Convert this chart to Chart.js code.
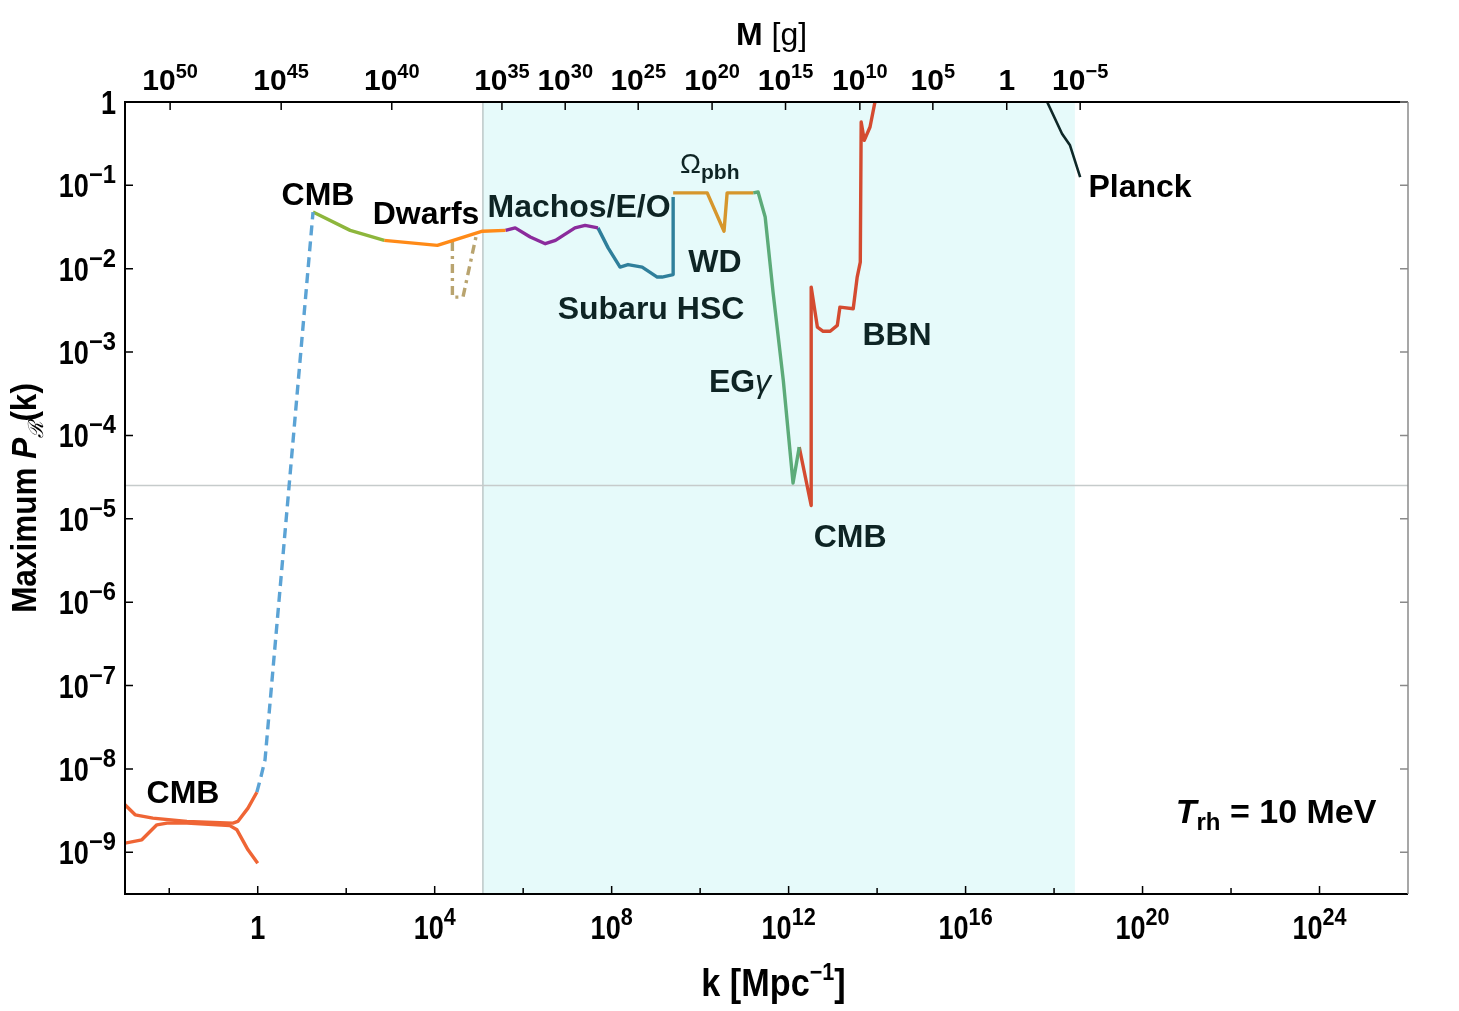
<!DOCTYPE html>
<html>
<head>
<meta charset="utf-8">
<title>Maximum P_R(k) vs k</title>
<script src="https://cdn.jsdelivr.net/npm/chart.js@4.4.1/dist/chart.umd.min.js"></script>
<style>
  html, body { margin: 0; padding: 0; background: #fff; }
  canvas { display: block; }
</style>
</head>
<body>
<canvas id="pbhChart" width="1459" height="1011"></canvas>
<script>
// All curve values are log10(k [Mpc^-1]) and log10(P_R)

// CMB (large scales), two branches
const cmbLowUpperK = [-3.0, -2.77, -2.37, -1.60, -0.56, -0.45, -0.22, -0.02];
const cmbLowUpperP = [-8.43, -8.55, -8.59, -8.63, -8.65, -8.63, -8.47, -8.28];
const cmbLowLowerK = [-3.0, -2.62, -2.28, -2.05, -1.60, -0.63, -0.47, -0.22, 0.0];
const cmbLowLowerP = [-8.89, -8.85, -8.67, -8.65, -8.65, -8.68, -8.73, -8.97, -9.13];

// dashed connection up to the CMB point
const linkK = [-0.02, 0.075, 0.165, 0.71, 1.25];
const linkP = [-8.28, -8.09, -7.89, -4.60, -1.32];

// CMB spectral distortions (green)
const cmbK = [1.25, 2.09, 2.86];
const cmbP = [-1.32, -1.54, -1.66];

// Dwarfs
const dwarfsK = [2.86, 4.06, 4.42, 5.08, 5.60];
const dwarfsP = [-1.66, -1.72, -1.66, -1.55, -1.54];

// Dwarfs, alternative (dash-dot)
const dwarfsAltK = [4.40, 4.40, 4.64, 4.94];
const dwarfsAltP = [-1.68, -2.34, -2.34, -1.60];

// Machos / EROS / OGLE
const machosK = [5.60, 5.82, 6.16, 6.50, 6.73, 7.17, 7.40, 7.69];
const machosP = [-1.54, -1.51, -1.62, -1.70, -1.66, -1.51, -1.48, -1.51];

// Subaru HSC
const subaruK = [7.69, 7.92, 8.19, 8.37, 8.69, 9.03, 9.14, 9.39, 9.39];
const subaruP = [-1.51, -1.75, -1.98, -1.95, -1.98, -2.10, -2.10, -2.07, -1.14];

// Omega_pbh and WD
const omegaK = [9.39, 10.16, 10.54, 10.61, 11.20];
const omegaP = [-1.09, -1.09, -1.55, -1.09, -1.09];

// Extragalactic gamma rays
const egK = [11.20, 11.31, 11.47, 11.65, 11.88, 12.10, 12.24];
const egP = [-1.09, -1.08, -1.38, -2.29, -3.34, -4.57, -4.14];

// CMB anisotropies + BBN
const bbnK = [12.24, 12.51, 12.51, 12.65, 12.78, 12.94, 13.10, 13.16, 13.46, 13.55, 13.62, 13.64, 13.71, 13.84, 13.97];
const bbnP = [-4.14, -4.84, -2.22, -2.70, -2.75, -2.75, -2.68, -2.46, -2.48, -2.10, -1.92, -0.24, -0.46, -0.30, 0.05];

// Planck relics
const planckK = [17.80, 18.18, 18.36, 18.59];
const planckP = [0.05, -0.38, -0.52, -0.90];

// shaded window and reference line
const shadeK = [5.09, 18.47];
const refP = -4.6;

// axes
const kMajorTicks = [0, 4, 8, 12, 16, 20, 24];
const kMinorTicks = [-2, 2, 6, 10, 14, 18, 22];
const pTicks = [0, -1, -2, -3, -4, -5, -6, -7, -8, -9];
const massExponents = [50, 45, 40, 35, 30, 25, 20, 15, 10, 5, 0, -5];
const massTickK = [-1.98, 0.53, 3.03, 5.52, 6.95, 8.60, 10.27, 11.93, 13.61, 15.26, 16.93, 18.59];

const pts = (lk, lp) => lk.map((e, i) => ({ x: Math.pow(10, e), y: Math.pow(10, lp[i]) }));

function curve(lk, lp, color, dash, width) {
  return {
    data: pts(lk, lp),
    borderColor: color,
    borderWidth: width || 3.4,
    borderDash: dash || [],
    pointRadius: 0,
    tension: 0,
    fill: false,
    borderJoinStyle: 'round'
  };
}

const supText = e => (e < 0 ? '\u2212' + Math.abs(e) : String(e));

// draw a run of text pieces: [text, font, dy, sx]
function drawParts(ctx, parts, x, y, align, sx) {
  sx = sx || 1;
  const scaleOf = p => (p[3] !== undefined ? p[3] : sx);
  let w = 0;
  parts.forEach(p => { ctx.font = p[1]; w += ctx.measureText(p[0]).width * scaleOf(p); });
  let cx = align === 'center' ? x - w / 2 : align === 'right' ? x - w : x;
  parts.forEach(p => {
    ctx.font = p[1];
    const s = scaleOf(p);
    const pw = ctx.measureText(p[0]).width * s;
    ctx.save();
    ctx.translate(cx, y + (p[2] || 0));
    ctx.scale(s, 1);
    ctx.fillText(p[0], 0, 0);
    ctx.restore();
    cx += pw;
  });
}

function powLabel(e, main, sup, dy, supSx) {
  if (e === 0) return [['1', main]];
  return [['10', main], [supText(e), sup, dy, supSx]];
}

const FONT = '"Liberation Sans", Arial, Helvetica, sans-serif';

const decorPlugin = {
  id: 'decor',
  beforeDatasetsDraw(chart) {
    const { ctx, chartArea: a, scales: { x, y } } = chart;
    const x0 = x.getPixelForValue(Math.pow(10, shadeK[0]));
    const x1 = x.getPixelForValue(Math.pow(10, shadeK[1]));
    ctx.save();
    ctx.fillStyle = '#E6FAFA';
    ctx.fillRect(x0, a.top, x1 - x0, a.bottom - a.top);
    ctx.lineWidth = 1.5;
    ctx.strokeStyle = '#BCC8C8';
    ctx.beginPath(); ctx.moveTo(x0, a.top); ctx.lineTo(x0, a.bottom); ctx.stroke();
    const yr = y.getPixelForValue(Math.pow(10, refP));
    ctx.strokeStyle = '#C6CBCB';
    ctx.beginPath(); ctx.moveTo(a.left, yr); ctx.lineTo(a.right, yr); ctx.stroke();
    ctx.restore();
  },
  afterDraw(chart) {
    const { ctx, chartArea: a, scales: { x, y } } = chart;
    const kx = e => x.getPixelForValue(Math.pow(10, e));
    const py = e => y.getPixelForValue(Math.pow(10, e));
    ctx.save();

    // frame
    ctx.lineWidth = 2;
    ctx.strokeStyle = '#000';
    ctx.beginPath();
    ctx.moveTo(a.right, a.top); ctx.lineTo(a.left, a.top);
    ctx.lineTo(a.left, a.bottom); ctx.lineTo(a.right, a.bottom);
    ctx.stroke();
    ctx.strokeStyle = '#8A8A8A';
    ctx.lineWidth = 1.5;
    ctx.beginPath(); ctx.moveTo(a.right, a.top); ctx.lineTo(a.right, a.bottom); ctx.stroke();

    // ticks, pointing inward
    ctx.lineWidth = 1.5;
    ctx.strokeStyle = '#000';
    ctx.beginPath();
    kMajorTicks.forEach(e => { const p = kx(e); ctx.moveTo(p, a.bottom); ctx.lineTo(p, a.bottom - 8); });
    kMinorTicks.forEach(e => { const p = kx(e); ctx.moveTo(p, a.bottom); ctx.lineTo(p, a.bottom - 6); });
    massTickK.forEach(e => { const p = kx(e); ctx.moveTo(p, a.top); ctx.lineTo(p, a.top + 8); });
    pTicks.forEach(e => { const p = py(e); ctx.moveTo(a.left, p); ctx.lineTo(a.left + 8, p); });
    ctx.stroke();
    ctx.strokeStyle = '#8A8A8A';
    ctx.beginPath();
    pTicks.forEach(e => { const p = py(e); ctx.moveTo(a.right, p); ctx.lineTo(a.right - 8, p); });
    ctx.stroke();

    // tick labels
    ctx.fillStyle = '#000';
    ctx.textBaseline = 'alphabetic';
    kMajorTicks.forEach(e => {
      drawParts(ctx, powLabel(e, 'bold 33px ' + FONT, 'bold 24px ' + FONT, -14, 0.9), kx(e), 939, 'center', 0.82);
    });
    pTicks.forEach(e => {
      drawParts(ctx, powLabel(e, 'bold 33px ' + FONT, 'bold 25px ' + FONT, -14, 0.95), 116, py(e) + 12, 'right', 0.82);
    });
    massExponents.forEach((m, i) => {
      drawParts(ctx, powLabel(m, 'bold 30px ' + FONT, 'bold 20px ' + FONT, -12), kx(massTickK[i]), 90, 'center');
    });

    // axis titles
    const cxm = (a.left + a.right) / 2 + 5;
    drawParts(ctx, [['M', 'bold 32px ' + FONT], [' [g]', '32px ' + FONT]], cxm, 45, 'center');
    drawParts(ctx, [['k [Mpc', 'bold 38px ' + FONT], ['\u22121', 'bold 24px ' + FONT, -16], [']', 'bold 38px ' + FONT]], cxm + 2, 996, 'center', 0.9);
    ctx.save();
    ctx.translate(36, (a.top + a.bottom) / 2);
    ctx.rotate(-Math.PI / 2);
    drawParts(ctx, [
      ['Maximum ', 'bold 35px ' + FONT],
      ['P', 'italic bold 35px ' + FONT],
      ['\u211B', 'italic 21px ' + FONT, 7],
      ['(k)', 'bold 35px ' + FONT]
    ], 0, 0, 'center', 0.9);
    ctx.restore();

    // curve annotations, anchored in data coordinates (log10 k, log10 P at baseline)
    const B = 'bold 32px ' + FONT;
    const ink = '#0E2424';
    const notes = [
      [1.363, -1.239, [['CMB', B]], '#000'],
      [3.805, -1.466, [['Dwarfs', B]], '#000'],
      [7.263, -1.383, [['Machos/E/O', B]], ink],
      [8.890, -2.606, [['Subaru HSC', B]], ink],
      [10.336, -2.042, [['WD', B]], ink],
      [10.901, -3.480, [['EG', B], ['\u03B3', 'italic 32px ' + FONT]], ink],
      [14.451, -2.917, [['BBN', B]], ink],
      [13.389, -5.340, [['CMB', B]], ink],
      [19.943, -1.143, [['Planck', B]], '#000'],
      [-1.688, -8.409, [['CMB', B]], '#000'],
      [23.018, -8.649, [['T', 'italic bold 34px ' + FONT], ['rh', 'bold 24px ' + FONT, 7], [' = 10 MeV', 'bold 34px ' + FONT]], '#000']
    ];
    notes.forEach(n => {
      ctx.fillStyle = n[3];
      drawParts(ctx, n[2], kx(n[0]), py(n[1]), 'center');
    });
    ctx.fillStyle = ink;
    drawParts(ctx, [['\u03A9', '28px ' + FONT], ['pbh', 'bold 21px ' + FONT, 6]], kx(9.546), py(-0.855), 'left');

    ctx.restore();
  }
};

const hiddenAxis = {
  type: 'logarithmic',
  grid: { display: false },
  border: { display: false },
  ticks: { display: false },
  title: { display: false }
};

new Chart(document.getElementById('pbhChart'), {
  type: 'line',
  data: {
    datasets: [
      curve(cmbLowUpperK, cmbLowUpperP, '#EF6535'),
      curve(cmbLowLowerK, cmbLowLowerP, '#EF6535'),
      curve(linkK, linkP, '#5BA3D5', [10, 6]),
      curve(cmbK, cmbP, '#8DB63C'),
      curve(dwarfsK, dwarfsP, '#FF8A17'),
      curve(dwarfsAltK, dwarfsAltP, '#B9A46F', [9, 5, 3, 5]),
      curve(machosK, machosP, '#8B2B9C'),
      curve(subaruK, subaruP, '#2F7F9B'),
      curve(omegaK, omegaP, '#D6962C'),
      curve(egK, egP, '#5CAB79'),
      curve(bbnK, bbnP, '#D44B30'),
      curve(planckK, planckP, '#0E2828', [], 2.6)
    ]
  },
  options: {
    responsive: false,
    animation: false,
    devicePixelRatio: 1,
    layout: { padding: { left: 0, right: 51, top: 0, bottom: 0 } },
    plugins: { legend: { display: false }, tooltip: { enabled: false } },
    scales: {
      x: Object.assign({}, hiddenAxis, {
        position: 'bottom', min: 1e-3, max: 1e26,
        afterFit: s => { s.height = 117; }
      }),
      xTop: Object.assign({}, hiddenAxis, {
        axis: 'x', position: 'top', min: 1e-3, max: 1e26,
        afterFit: s => { s.height = 102; }
      }),
      y: Object.assign({}, hiddenAxis, {
        position: 'left', min: Math.pow(10, -9.5), max: 1,
        afterFit: s => { s.width = 125; }
      })
    }
  },
  plugins: [decorPlugin]
});
</script>
</body>
</html>
